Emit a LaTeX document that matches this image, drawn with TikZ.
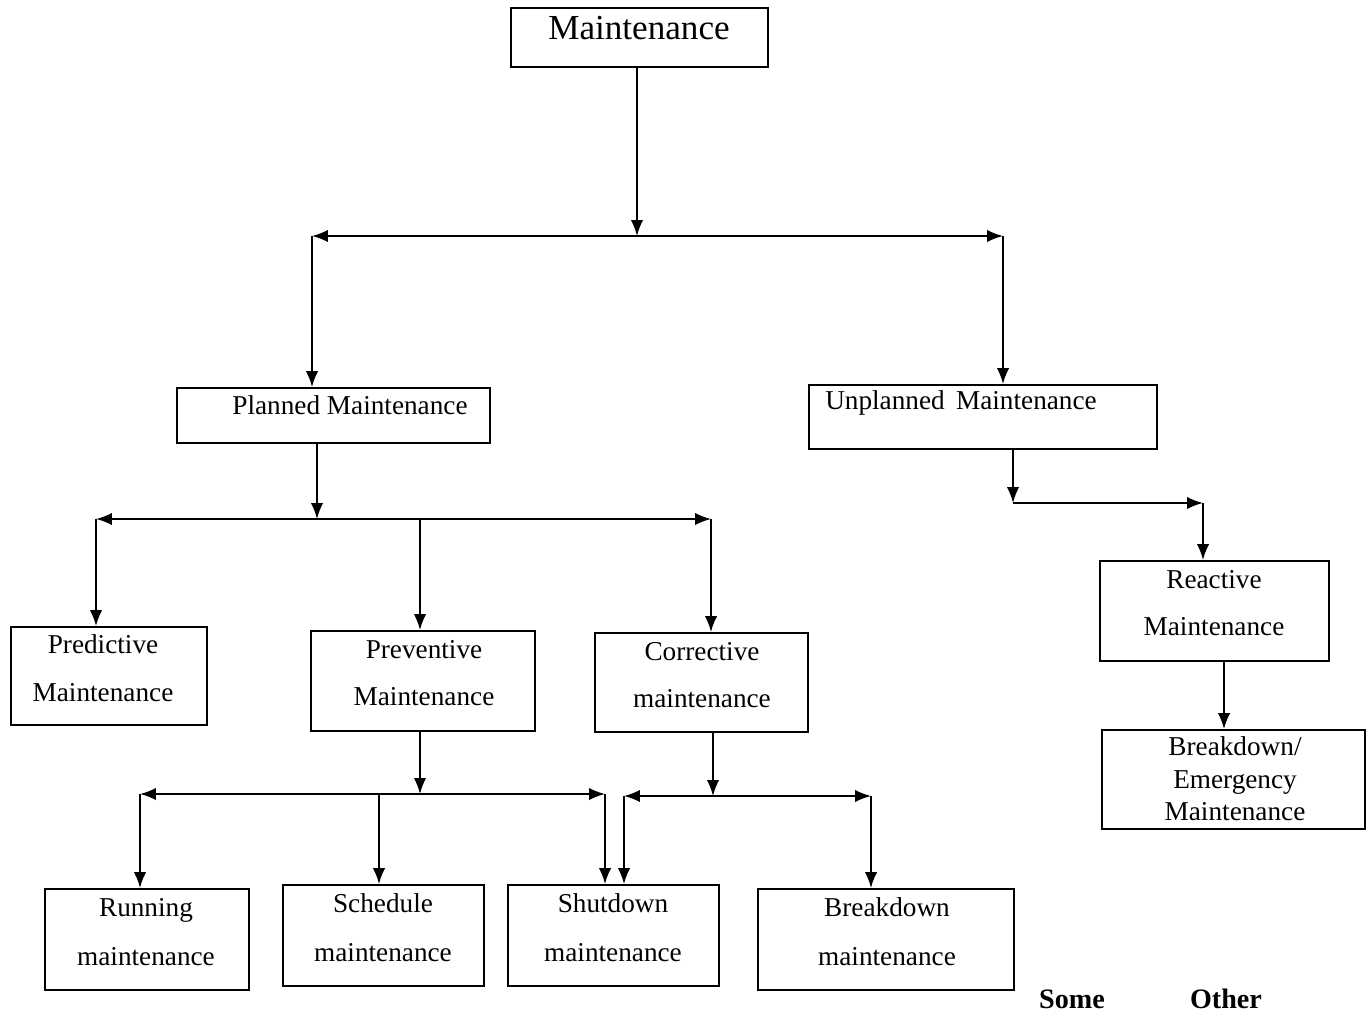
\documentclass[tikz,border=0pt]{standalone}
\usepackage{fontspec}
\setmainfont{Liberation Serif}
\usetikzlibrary{positioning}
\usetikzlibrary{fit}
\usetikzlibrary{arrows.meta}

\begin{document}
\begin{tikzpicture}[x=0.02cm, y=-0.02cm, >={Latex[length=9pt,width=7pt]},
    every node/.style={inner sep=0pt},
    box/.style={draw, line width=1.1pt, fit={#1}},
    txt/.style={font=\fontsize{15.5}{27}\selectfont, align=center},
    link/.style={line width=1pt}]
      \useasboundingbox (0,0) rectangle (1366,1013);

      % boxes
      \node[box={(511,8) (768,67)}] (main) {};
      \node[box={(177,388) (490,443)}] (plan) {};
      \node[box={(809,385) (1157,449)}] (unpl) {};
      \node[box={(11,627) (207,725)}] (pred) {};
      \node[box={(311,631) (535,731)}] (prev) {};
      \node[box={(595,633) (808,732)}] (corr) {};
      \node[box={(1100,561) (1329,661)}] (reac) {};
      \node[box={(1102,730) (1365,829)}] (emer) {};
      \node[box={(45,889) (249,990)}] (run) {};
      \node[box={(283,885) (484,986)}] (sched) {};
      \node[box={(508,885) (719,986)}] (shut) {};
      \node[box={(758,889) (1014,990)}] (brk) {};

      % texts
      \node[font=\fontsize{20}{24}\selectfont] at (639,28) (mainT) {Maintenance};
      \node[txt] at (350,405) (planT) {Planned Maintenance};
      \node[txt] at (961,403) (unplT) {Unplanned\, Maintenance};
      \node[txt] at (103,668) (predT) {Predictive\\Maintenance};
      \node[txt] at (424,673) (prevT) {Preventive\\Maintenance};
      \node[txt] at (702,675) (corrT) {Corrective\\maintenance};
      \node[txt] at (1214,603) (reacT) {Reactive\\Maintenance};
      \node[txt, font=\fontsize{15.5}{18.5}\selectfont] at (1235,779) (emerT) {Breakdown/\\Emergency\\Maintenance};
      \node[txt, font=\fontsize{15.5}{28}\selectfont] at (146,932) (runT) {Running\\maintenance};
      \node[txt, font=\fontsize{15.5}{28}\selectfont] at (383,928) (schedT) {Schedule\\maintenance};
      \node[txt, font=\fontsize{15.5}{28}\selectfont] at (613,928) (shutT) {Shutdown\\maintenance};
      \node[txt, font=\fontsize{15.5}{28}\selectfont] at (887,932) (brkT) {Breakdown\\maintenance};
      \node[font=\fontsize{16}{19}\bfseries] at (1072,999) (some) {Some};
      \node[font=\fontsize{16}{19}\bfseries] at (1226,999) (other) {Other};

      % top level
      \coordinate (t0) at (637,236);
      \coordinate (tl) at (312,236);
      \coordinate (tr) at (1003,236);
      \draw[link,->] (main.south -| t0) -- (t0);
      \draw[link,<->] (tl) -- (tr);
      \draw[link,->] (tl) -- (tl |- plan.north);
      \draw[link,->] (tr) -- (tr |- unpl.north);

      % planned branch
      \coordinate (p0) at (317,519);
      \coordinate (pl) at (96,519);
      \coordinate (pm) at (420,519);
      \coordinate (pr) at (711,519);
      \draw[link,->] (plan.south -| p0) -- (p0);
      \draw[link,<->] (pl) -- (pr);
      \draw[link,->] (pl) -- (pl |- pred.north);
      \draw[link,->] (pm) -- (pm |- prev.north);
      \draw[link,->] (pr) -- (pr |- corr.north);

      % unplanned branch
      \coordinate (u0) at (1013,503);
      \coordinate (u1) at (1203,503);
      \coordinate (r0) at (1224,700);
      \draw[link,->] (unpl.south -| u0) -- (u0);
      \draw[link,->] (u0) -- (u1);
      \draw[link,->] (u1) -- (u1 |- reac.north);
      \draw[link,->] (reac.south -| r0) -- (r0 |- emer.north);

      % preventive branch
      \coordinate (v0) at (420,794);
      \coordinate (vl) at (140,794);
      \coordinate (vm) at (379,794);
      \coordinate (vr) at (605,794);
      \draw[link,->] (prev.south -| v0) -- (v0);
      \draw[link,<->] (vl) -- (vr);
      \draw[link,->] (vl) -- (vl |- run.north);
      \draw[link,->] (vm) -- (vm |- sched.north);
      \draw[link,->] (vr) -- (vr |- shut.north);

      % corrective branch
      \coordinate (c0) at (713,796);
      \coordinate (cl) at (624,796);
      \coordinate (cr) at (871,796);
      \draw[link,->] (corr.south -| c0) -- (c0);
      \draw[link,<->] (cl) -- (cr);
      \draw[link,->] (cl) -- (cl |- shut.north);
      \draw[link,->] (cr) -- (cr |- brk.north);
\end{tikzpicture}
\end{document}
